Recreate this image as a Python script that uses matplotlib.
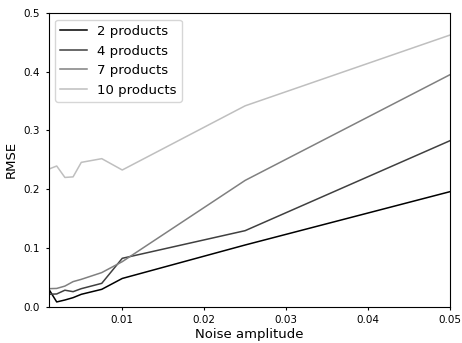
import numpy as np
from matplotlib import pyplot as plt

noise = [0.001, 0.002, 0.003, 0.004, 0.005, 0.0075, 0.01, 0.025, 0.05]
rmse_2 = [0.0306, 0.008, 0.0113, 0.0153, 0.021, 0.0295, 0.048, 0.105, 0.1958]
rmse_4 = [0.021, 0.0216, 0.028, 0.0255, 0.0306, 0.0397, 0.0823, 0.1294, 0.2826]
rmse_7 = [0.0306, 0.031, 0.035, 0.0426, 0.0465, 0.058, 0.0766, 0.215, 0.395]
rmse_10 = [0.234, 0.2395, 0.220, 0.221, 0.2457, 0.252, 0.2327, 0.342, 0.4625]
labels = ['2 products', '4 products', '7 products', '10 products']
colors = ['0.0', '0.25', '0.5', '0.75']

fig = plt.figure(figsize=(4.62, 3.43), dpi=100)
ax = fig.add_axes([0.105, 0.106, 0.869, 0.856])

for ys, lab, c in zip([rmse_2, rmse_4, rmse_7, rmse_10], labels, colors):
    ax.plot(noise, ys, color=c, label=lab, linewidth=1.1)

ax.set_xlim(0.001, 0.05)
ax.set_ylim(0, 0.5)
ax.set_xticks([0.01, 0.02, 0.03, 0.04, 0.05])
ax.set_yticks([0.0, 0.1, 0.2, 0.3, 0.4, 0.5])
ax.tick_params(labelsize=7.5, length=2.5)
ax.set_xlabel('Noise amplitude', fontsize=9.5, labelpad=2)
ax.set_ylabel('RMSE', fontsize=9.5, labelpad=4)
ax.legend(loc='upper left', fontsize=9.5)

fig.savefig('out.png')
